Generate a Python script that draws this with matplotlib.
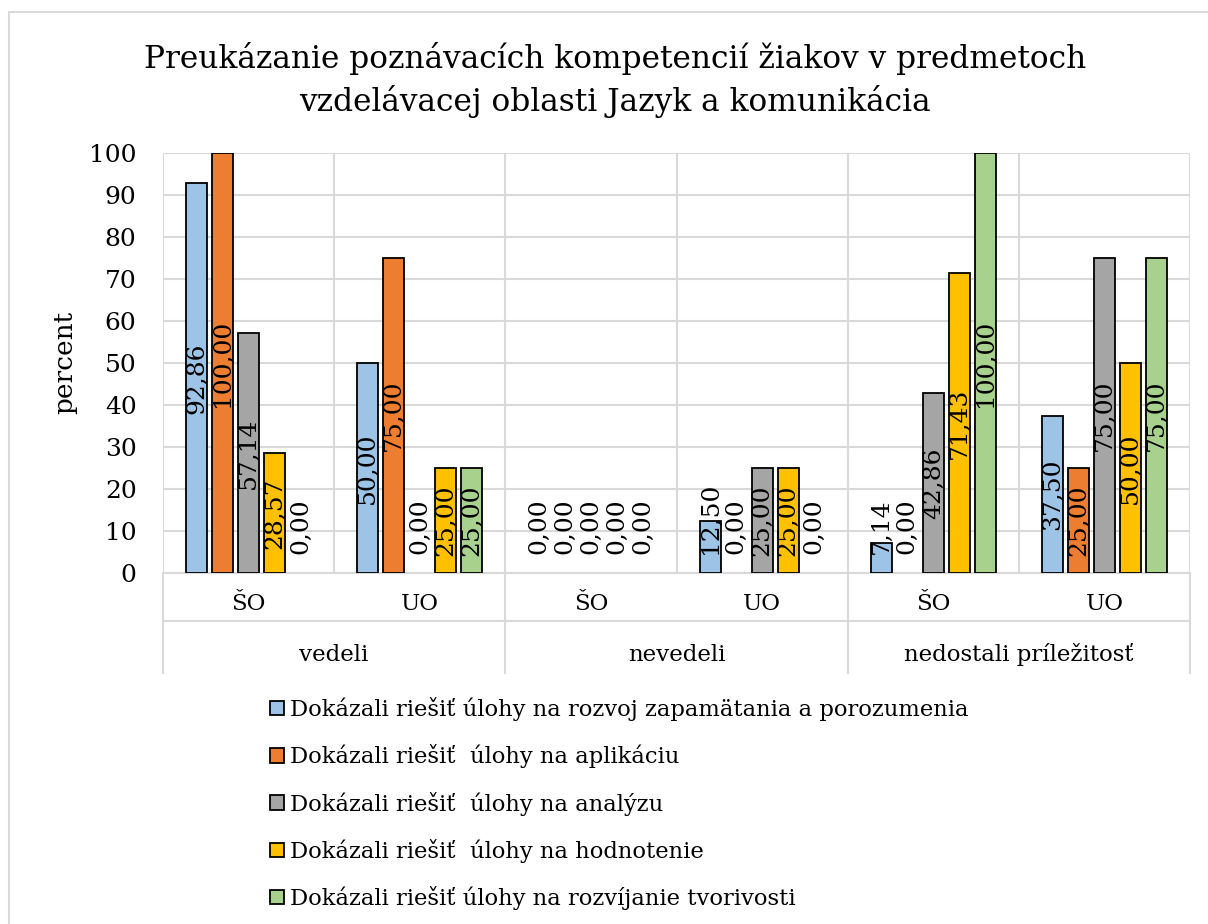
import matplotlib.pyplot as plt
from matplotlib.patches import Rectangle
from matplotlib.lines import Line2D

plt.rcParams['font.family'] = ['DejaVu Serif']

# Dáta
groups = ['vedeli', 'nevedeli', 'nedostali príležitosť']
subcats = ['ŠO', 'UO', 'ŠO', 'UO', 'ŠO', 'UO']
series_names = [
    'Dokázali riešiť úlohy na rozvoj zapamätania a porozumenia',
    'Dokázali riešiť  úlohy na aplikáciu',
    'Dokázali riešiť  úlohy na analýzu',
    'Dokázali riešiť  úlohy na hodnotenie',
    'Dokázali riešiť úlohy na rozvíjanie tvorivosti',
]
pamat = [92.86, 50.00, 0.00, 12.50, 7.14, 37.50]
aplikacia = [100.00, 75.00, 0.00, 0.00, 0.00, 25.00]
analyza = [57.14, 0.00, 0.00, 25.00, 42.86, 75.00]
hodnotenie = [28.57, 25.00, 0.00, 25.00, 71.43, 50.00]
tvorivost = [0.00, 25.00, 0.00, 0.00, 100.00, 75.00]
series = [pamat, aplikacia, analyza, hodnotenie, tvorivost]
colors = ['#9DC3E6', '#ED7D31', '#A5A5A5', '#FFC000', '#A9D18E']

W, H = 1208, 924
fig = plt.figure(figsize=(W / 100, H / 100), dpi=100)
ax = fig.add_axes([163 / W, 1 - 573 / H, (1190 - 163) / W, (573 - 153) / H])

grid_c = '#D9D9D9'
bar_w = 0.123
step = 0.152
fs = 18

for i, vals in enumerate(series):
    for j, v in enumerate(vals):
        x = j + 0.5 + (i - 2) * step
        if v > 0:
            ax.bar(x, v, width=bar_w, color=colors[i], edgecolor='black', linewidth=1.3, zorder=3)
        txt = f'{v:.2f}'.replace('.', ',')
        # popisky v strede stĺpca, pri nízkych hodnotách nad osou
        if v / 2 >= 12:
            ax.text(x, v / 2, txt, rotation=90, ha='center', va='center', fontsize=fs, zorder=4)
        else:
            ax.text(x, 4.5, txt, rotation=90, ha='center', va='bottom', fontsize=fs, zorder=4)

ax.set_xlim(0, 6)
ax.set_ylim(0, 100)
ax.set_yticks(range(0, 101, 10))
ax.tick_params(axis='y', length=0, pad=19, labelsize=18)
ax.set_xticks([])
for s in ax.spines.values():
    s.set_visible(False)
ax.grid(axis='y', color=grid_c, linewidth=1.5, zorder=0)
for k in range(7):
    ax.axvline(k, color=grid_c, linewidth=1.5, zorder=0)

# dvojúrovňová kategóriová os
tr = ax.get_xaxis_transform()
ax_h = 573 - 153
def yax(py):
    return -(py - 573) / ax_h

ax.add_line(Line2D([0, 6], [0, 0], transform=tr, color=grid_c, lw=1.5, clip_on=False))
ax.add_line(Line2D([0, 6], [yax(621)] * 2, transform=tr, color=grid_c, lw=1.5, clip_on=False))
for k in [0, 2, 4, 6]:
    ax.add_line(Line2D([k, k], [0, yax(673)], transform=tr, color=grid_c, lw=1.5, clip_on=False))
for j, lab in enumerate(subcats):
    ax.text(j + 0.5, yax(604), lab, transform=tr, ha='center', va='center', fontsize=16.5)
for g, lab in enumerate(groups):
    ax.text(2 * g + 1, yax(655), lab, transform=tr, ha='center', va='center', fontsize=16.5)

fig.text(615 / W, 1 - 80 / H,
         'Preukázanie poznávacích kompetencií žiakov v predmetoch\nvzdelávacej oblasti Jazyk a komunikácia',
         ha='center', va='center', fontsize=22.5, linespacing=1.4)
fig.text(65 / W, 1 - 362 / H, 'percent', rotation=90, ha='center', va='center', fontsize=19)

handles = [Rectangle((0, 0), 1, 1, facecolor=c, edgecolor='black', lw=1.3) for c in colors]
fig.legend(handles, series_names, loc='upper left', bbox_to_anchor=(270 / W, 1 - 697 / H),
           frameon=False, fontsize=16.3, handlelength=0.6, handleheight=0.6,
           handletextpad=0.3, labelspacing=1.03, borderpad=0, borderaxespad=0)

fig.patches.append(Rectangle((9 / W, -0.05), 1.2, 1 - 12 / H + 0.05, transform=fig.transFigure,
                             fill=False, edgecolor=grid_c, lw=1.5))

fig.savefig('out.png', dpi=100)
